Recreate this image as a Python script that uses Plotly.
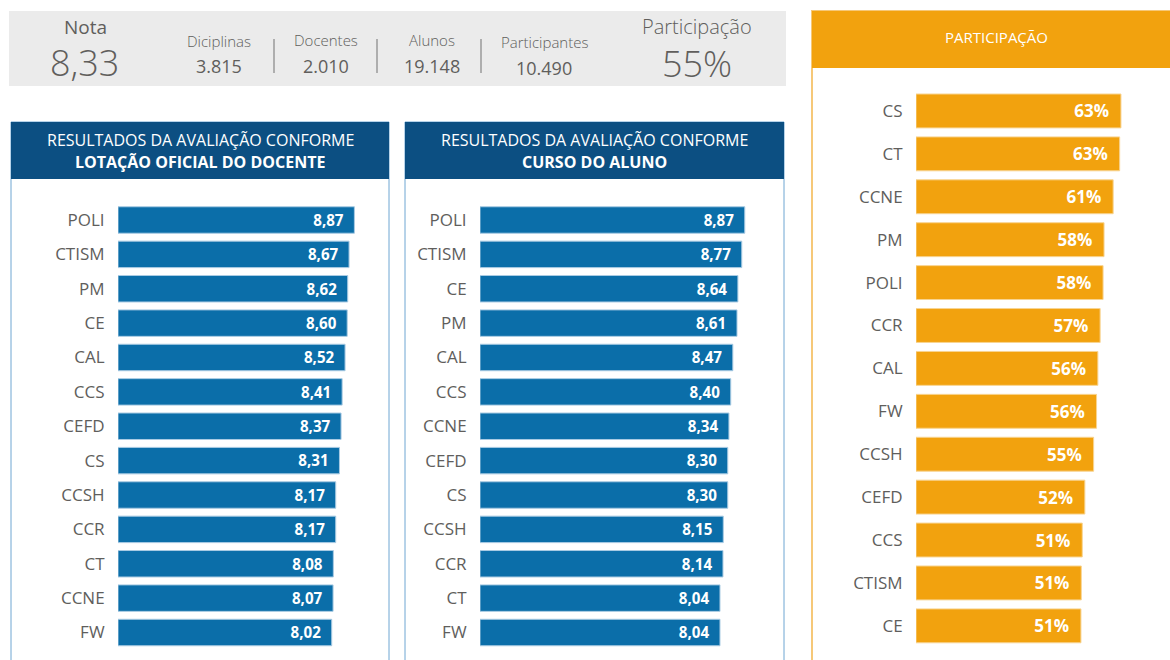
import plotly.graph_objects as go

W, H = 1170, 660

# data
lotacao_cat = ["POLI", "CTISM", "PM", "CE", "CAL", "CCS", "CEFD", "CS", "CCSH", "CCR", "CT", "CCNE", "FW"]
lotacao_nota = [8.87, 8.67, 8.62, 8.60, 8.52, 8.41, 8.37, 8.31, 8.17, 8.17, 8.08, 8.07, 8.02]

curso_cat = ["POLI", "CTISM", "CE", "PM", "CAL", "CCS", "CCNE", "CEFD", "CS", "CCSH", "CCR", "CT", "FW"]
curso_nota = [8.87, 8.77, 8.64, 8.61, 8.47, 8.40, 8.34, 8.30, 8.30, 8.15, 8.14, 8.04, 8.04]

part_cat = ["CS", "CT", "CCNE", "PM", "POLI", "CCR", "CAL", "FW", "CCSH", "CEFD", "CCS", "CTISM", "CE"]
part_pct = [63.0, 62.6, 60.6, 57.8, 57.5, 56.6, 55.9, 55.5, 54.6, 51.9, 51.1, 50.8, 50.7]

kpi_labels = ["Diciplinas", "Docentes", "Alunos", "Participantes"]
kpi_values = ["3.815", "2.010", "19.148", "10.490"]
nota_geral = "8,33"
participacao_geral = "55%"

BLUE_BAR = "#0b6ea9"
BLUE_HEAD = "#0c4f82"
ORANGE = "#f2a20e"
GRAY_TXT = "#605e5c"
FONT = "Open Sans"
NB = "\u00a0\u00a0"


def fx(p):
    return p / W


def fy(p):
    return 1 - p / H


fig = go.Figure()

fig.add_trace(go.Bar(
    y=lotacao_cat, x=lotacao_nota, orientation="h", width=0.77,
    marker=dict(color=BLUE_BAR, line=dict(color="#a9cbe3", width=1)),
    texttemplate="<b>%{x:.2f}</b>" + NB, textposition="inside", insidetextanchor="end",
    textfont=dict(color="white", size=17, family=FONT),
    xaxis="x", yaxis="y", hoverinfo="skip",
))
fig.add_trace(go.Bar(
    y=curso_cat, x=curso_nota, orientation="h", width=0.77,
    marker=dict(color=BLUE_BAR, line=dict(color="#a9cbe3", width=1)),
    texttemplate="<b>%{x:.2f}</b>" + NB, textposition="inside", insidetextanchor="end",
    textfont=dict(color="white", size=17, family=FONT),
    xaxis="x2", yaxis="y2", hoverinfo="skip",
))
fig.add_trace(go.Bar(
    y=part_cat, x=part_pct, orientation="h", width=0.79,
    marker=dict(color=ORANGE, line=dict(color="#f8d491", width=1)),
    texttemplate="<b>%{x:.0f}%</b>" + NB, textposition="inside", insidetextanchor="end",
    textfont=dict(color="white", size=17, family=FONT),
    xaxis="x3", yaxis="y3", hoverinfo="skip",
))

xcommon = dict(showgrid=False, zeroline=False, showticklabels=False, showline=False, fixedrange=True)
ycommon = dict(showgrid=False, zeroline=False, showline=False, autorange="reversed",
               ticks="outside", ticklen=9, tickcolor="rgba(0,0,0,0)",
               tickfont=dict(size=17, color=GRAY_TXT, family=FONT))

fig.update_layout(
    width=W, height=H, margin=dict(l=0, r=0, t=0, b=0),
    paper_bgcolor="white", plot_bgcolor="rgba(0,0,0,0)",
    showlegend=False, separators=",.",
    font=dict(family=FONT, color=GRAY_TXT),
    xaxis=dict(domain=[fx(118), fx(384.5)], range=[0, 10], anchor="y", **xcommon),
    yaxis=dict(domain=[fy(649.7), fy(202.8)], anchor="x", **ycommon),
    xaxis2=dict(domain=[fx(480), fx(778.5)], range=[0, 10], anchor="y2", **xcommon),
    yaxis2=dict(domain=[fy(649.7), fy(202.8)], anchor="x2", **ycommon),
    xaxis3=dict(domain=[fx(916), fx(1160)], range=[0, 75], anchor="y3", **xcommon),
    yaxis3=dict(domain=[fy(647.3), fy(89.5)], anchor="x3", **ycommon),
)

shapes = []


def rect(x0, y0, x1, y1, fill, line_color=None, lw=0):
    shapes.append(dict(type="rect", xref="paper", yref="paper", layer="below",
                       x0=fx(x0), x1=fx(x1), y0=fy(y1), y1=fy(y0),
                       fillcolor=fill, line=dict(color=line_color or fill, width=lw)))


# KPI band
rect(9, 11, 786, 86, "#ebebeb")
for sx in [274, 377, 481]:
    shapes.append(dict(type="line", xref="paper", yref="paper",
                       x0=fx(sx), x1=fx(sx), y0=fy(39), y1=fy(73),
                       line=dict(color="#9a9a9a", width=1.5)))

# panels
rect(11, 122, 389, 680, "white", "#6fa6d2", 1)
rect(11, 122, 389, 179, BLUE_HEAD)
rect(405, 122, 784, 680, "white", "#6fa6d2", 1)
rect(405, 122, 784, 179, BLUE_HEAD)
rect(812, 11, 1190, 680, "white", "#f6c878", 2)
rect(812, 11, 1190, 68, ORANGE)

fig.update_layout(shapes=shapes)

ann = []


def text(x, y, s, size, color=GRAY_TXT, weight=400):
    ann.append(dict(xref="paper", yref="paper", x=fx(x), y=fy(y), text=s, showarrow=False,
                    xanchor="center", yanchor="middle",
                    font=dict(size=size, color=color, family=FONT, weight=weight)))


text(85, 27, "Nota", 19)
text(84, 62, nota_geral, 36, weight=300)
kpi_x = [219, 326, 432, 544]
kpi_label_y = [41, 40, 40, 42]
kpi_value_y = [66, 66, 66, 68]
for i in range(len(kpi_labels)):
    text(kpi_x[i], kpi_label_y[i], kpi_labels[i], 15, weight=300)
    text(kpi_x[i], kpi_value_y[i], kpi_values[i], 18)
text(697, 26, "Participação", 20, weight=300)
text(697, 63, participacao_geral, 36, weight=300)

text(200, 140, "RESULTADOS DA AVALIAÇÃO CONFORME", 16, "white", 400)
text(200, 162, "LOTAÇÃO OFICIAL DO DOCENTE", 16, "white", 700)
text(594, 140, "RESULTADOS DA AVALIAÇÃO CONFORME", 16, "white", 400)
text(594, 162, "CURSO DO ALUNO", 16, "white", 700)
text(996, 37, "PARTICIPAÇÃO", 15, "white", 400)

fig.update_layout(annotations=ann)

fig.write_html("out.html", config={"displayModeBar": False},
               post_script="document.body.style.margin='0';")
